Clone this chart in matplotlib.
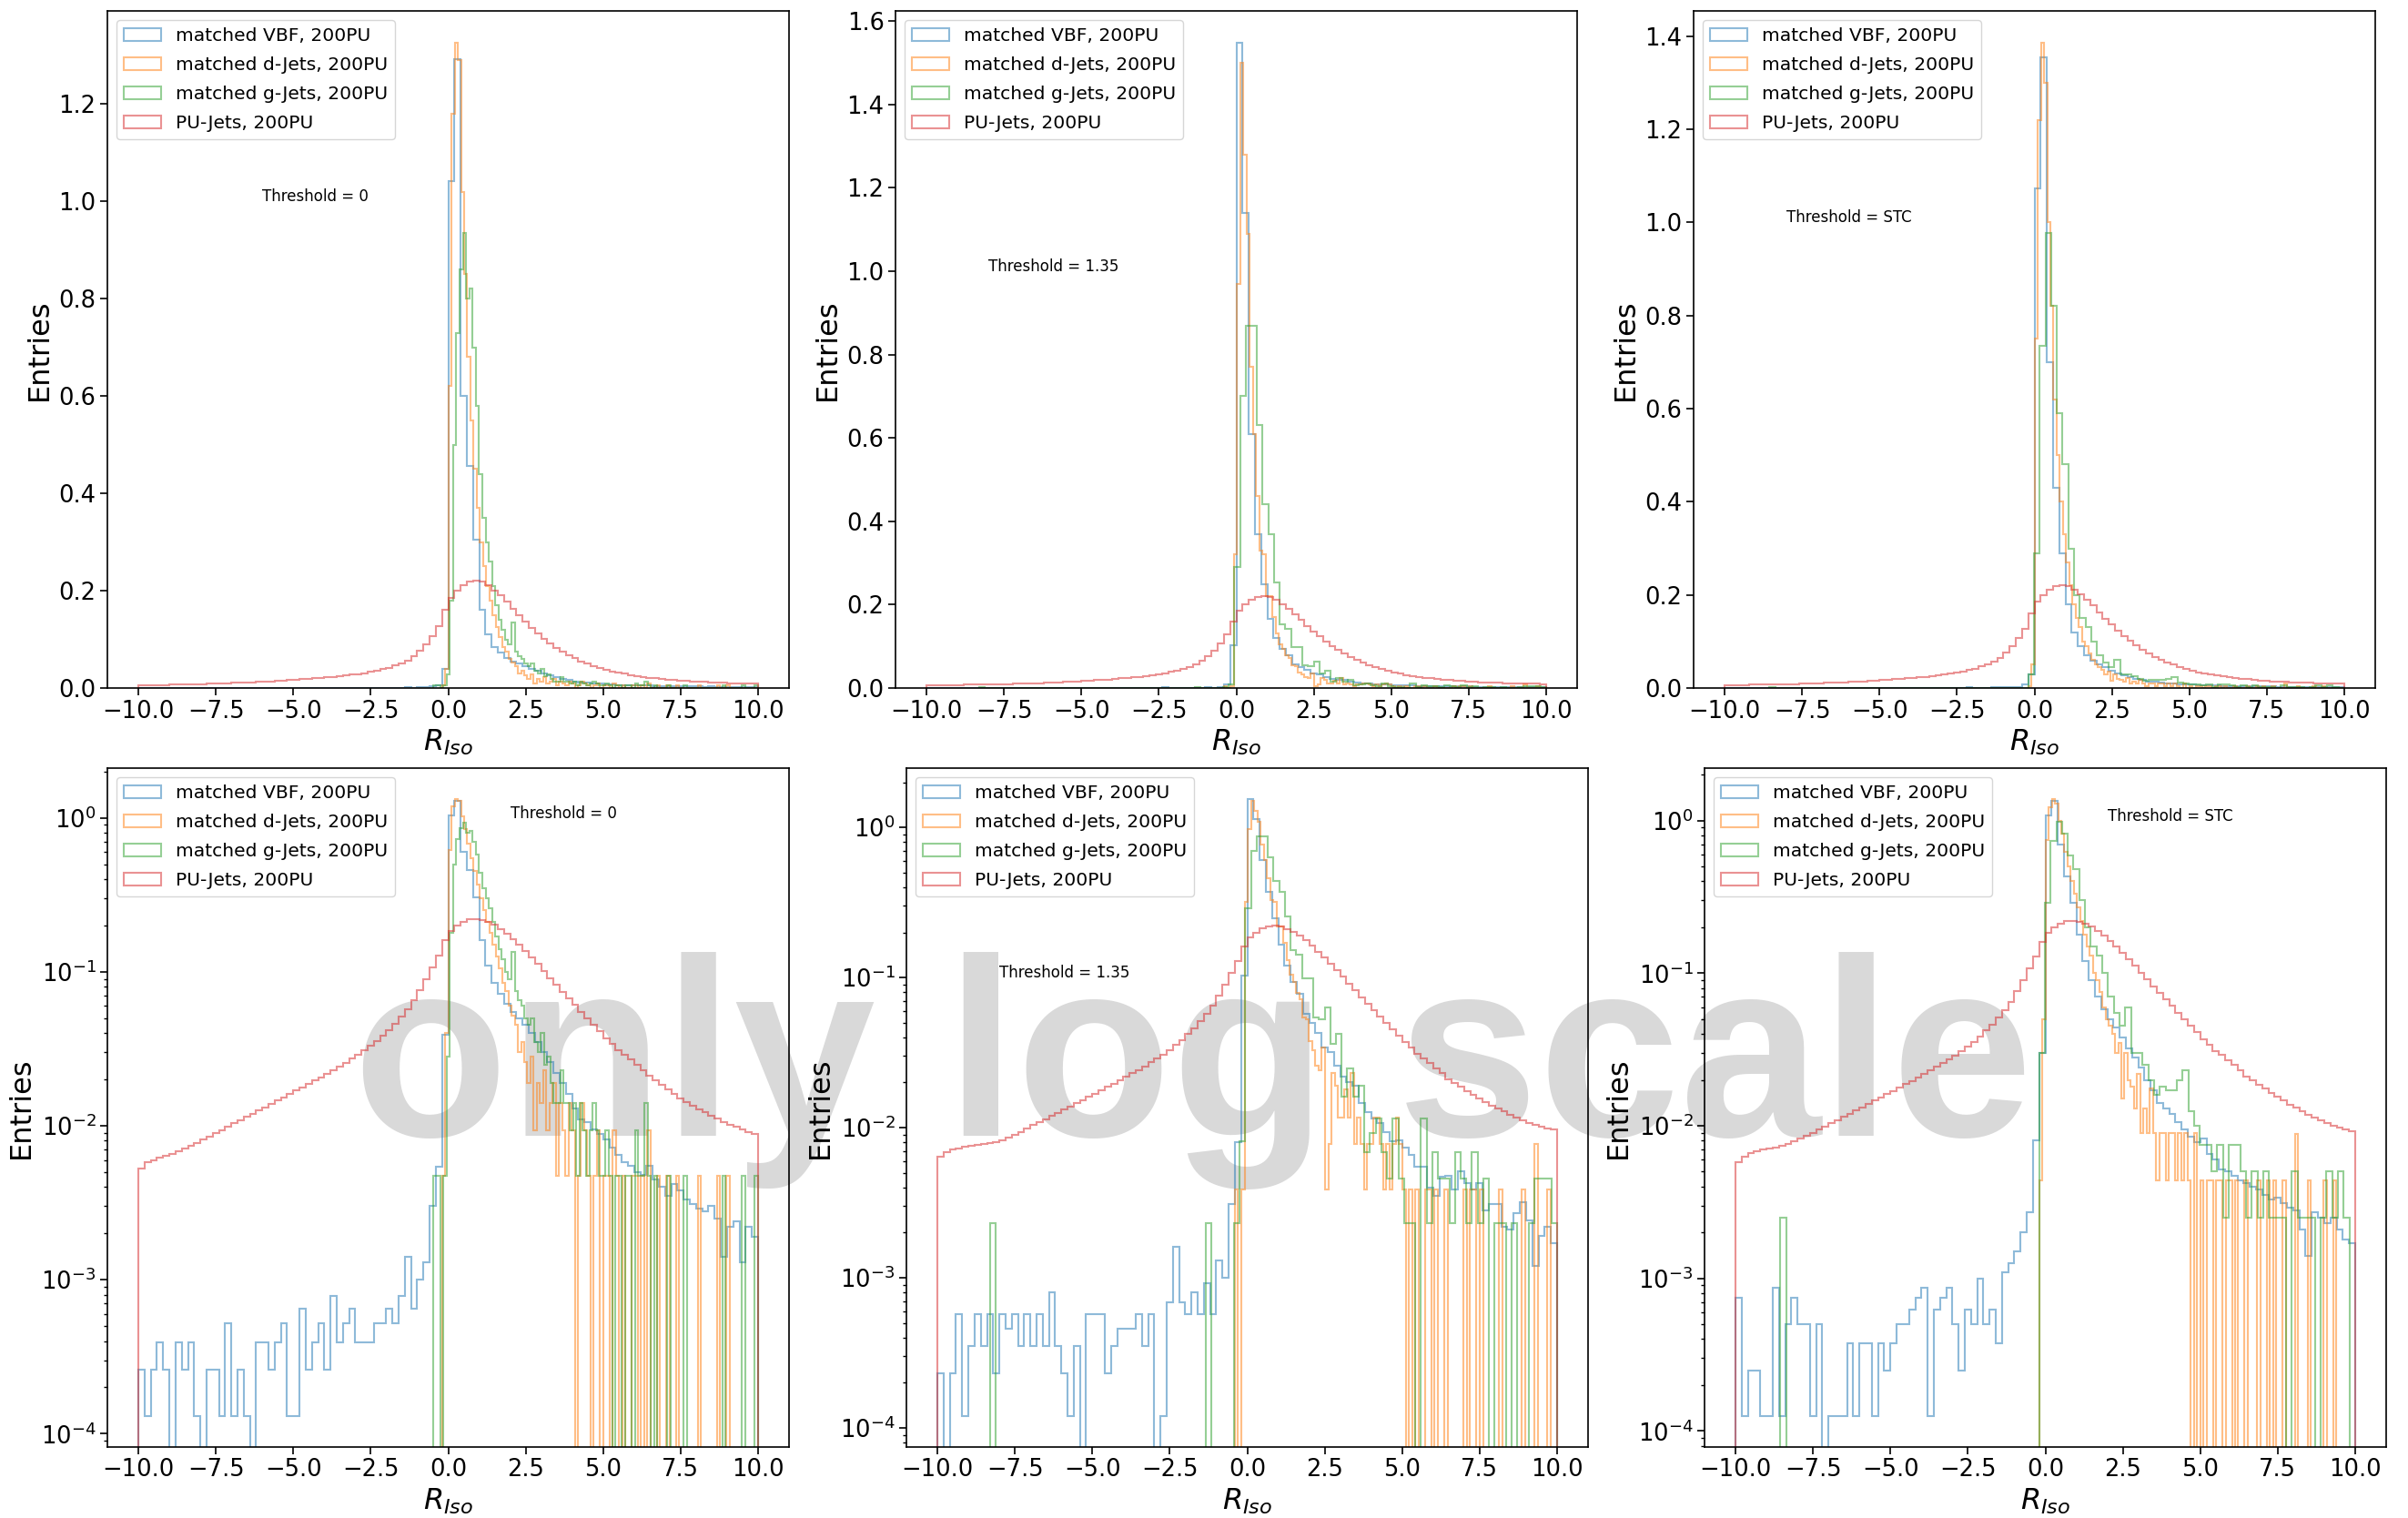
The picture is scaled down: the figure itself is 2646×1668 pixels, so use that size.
import numpy as np
import matplotlib.pyplot as plt

# R_Iso distributions (density) for matched jets and PU jets at 200PU,
# one column per threshold. Each series: bin contents + (low, high) range.

labels = ['matched VBF, 200PU', 'matched d-Jets, 200PU',
          'matched g-Jets, 200PU', 'PU-Jets, 200PU']
thresholds = ['0', '1.35', 'STC']

# ---------------- Threshold = 0 ----------------
vbf_range_thr0 = (-10.0, 10.0)
vbf_thr0 = [
    2.6e-4, 1.3e-4, 2.6e-4, 3.9e-4, 2.6e-4, 0, 3.9e-4, 2.6e-4, 3.9e-4, 1.3e-4,
    0, 2.6e-4, 2.6e-4, 1.3e-4, 5.2e-4, 1.3e-4, 2.6e-4, 1.3e-4, 0, 3.9e-4,
    3.9e-4, 2.6e-4, 3.9e-4, 5.2e-4, 1.3e-4, 1.3e-4, 6.5e-4, 2.6e-4, 3.9e-4, 5.2e-4,
    2.6e-4, 7.8e-4, 3.9e-4, 5.2e-4, 6.5e-4, 3.9e-4, 3.9e-4, 3.9e-4, 5.2e-4, 5.2e-4,
    6.5e-4, 5.2e-4, 7.8e-4, 1.4e-3, 6.5e-4, 1.0e-3, 1.3e-3, 3.0e-3, 5.4e-3, 0.039,
    1.042, 1.293, 0.60, 0.456, 0.305, 0.16, 0.11, 0.085, 0.072, 0.062,
    0.055, 0.05, 0.045, 0.040, 0.035, 0.030, 0.026, 0.022, 0.019, 0.016,
    0.013, 0.011, 0.0105, 0.0095, 0.0088, 0.0082, 0.0072, 0.0065, 0.0058, 0.0055,
    0.0050, 0.0048, 0.0055, 0.0045, 0.0040, 0.0035, 0.0042, 0.0038, 0.0033, 0.0031,
    0.0029, 0.0028, 0.0030, 0.0025, 0.0014, 0.0022, 0.0024, 0.0013, 0.0022, 0.0019,
]
djet_range_thr0 = (-0.2, 10.0)
djet_thr0 = [
    0.0047, 0.04, 0.62, 1.18, 1.325, 1.29, 1.02, 0.85, 0.68, 0.55,
    0.45, 0.37, 0.30, 0.25, 0.21, 0.18, 0.15, 0.125, 0.105, 0.085,
    0.075, 0.06, 0.052, 0.045, 0.03, 0.035, 0.026, 0.019, 0.028, 0.0093,
    0.019, 0.014, 0.023, 0.0093, 0.014, 0.019, 0.0047, 0.014, 0.0093, 0.0047,
    0.014, 0.0093, 0, 0.0047, 0.014, 0.0093, 0.0047, 0, 0.0047, 0.0093,
    0, 0.0047, 0.0047, 0, 0.0093, 0.0047, 0, 0.0047, 0, 0,
    0.0047, 0.0047, 0, 0.0047, 0, 0.0093, 0, 0, 0.0047, 0,
    0, 0.0047, 0, 0, 0.0047, 0, 0, 0, 0, 0,
    0, 0.0047, 0, 0, 0, 0, 0, 0.0047, 0, 0,
    0.0047, 0, 0, 0, 0, 0, 0, 0, 0, 0,
]
gjet_range_thr0 = (-0.47, 10.0)
gjet_thr0 = [
    0.0047, 0.0047, 0, 0.0047, 0.028, 0.18, 0.50, 0.73, 0.86, 0.935,
    0.80, 0.82, 0.70, 0.58, 0.44, 0.35, 0.30, 0.26, 0.21, 0.17,
    0.14, 0.12, 0.10, 0.09, 0.135, 0.075, 0.065, 0.06, 0.05, 0.045,
    0.05, 0.035, 0.03, 0.04, 0.025, 0.028, 0.019, 0.014, 0.014, 0.023,
    0.014, 0.014, 0.0093, 0.014, 0.0047, 0.014, 0.0093, 0.0047, 0.0093, 0.014,
    0.0093, 0.0047, 0.0047, 0.0093, 0.0047, 0, 0.0047, 0.0047, 0, 0.0047,
    0.0047, 0, 0.0093, 0.0047, 0.0047, 0.014, 0.0047, 0, 0.0047, 0,
    0, 0, 0.0047, 0, 0, 0, 0, 0.0047, 0, 0,
    0, 0, 0, 0, 0, 0, 0, 0, 0, 0.0047,
    0, 0, 0, 0, 0, 0.0047, 0, 0, 0, 0.0047,
]
pu_range_thr0 = (-10.0, 10.0)
pu_thr0 = [
    0.0053, 0.0058, 0.0060, 0.0062, 0.0064, 0.0066, 0.0068, 0.0071, 0.0074, 0.0077,
    0.0081, 0.0085, 0.0090, 0.0094, 0.0099, 0.0104, 0.0109, 0.0114, 0.0120, 0.0126,
    0.0132, 0.0139, 0.0146, 0.0153, 0.0161, 0.0169, 0.0178, 0.0187, 0.0197, 0.0207,
    0.0218, 0.0230, 0.0243, 0.0257, 0.0272, 0.0289, 0.0308, 0.0330, 0.0355, 0.0385,
    0.042, 0.046, 0.051, 0.057, 0.065, 0.076, 0.090, 0.107, 0.128, 0.160,
    0.185, 0.200, 0.212, 0.219, 0.221, 0.218, 0.211, 0.201, 0.190, 0.177,
    0.163, 0.149, 0.136, 0.124, 0.112, 0.101, 0.091, 0.082, 0.074, 0.067,
    0.061, 0.055, 0.050, 0.045, 0.041, 0.037, 0.034, 0.031, 0.029, 0.027,
    0.025, 0.023, 0.021, 0.0197, 0.0184, 0.0172, 0.0161, 0.0151, 0.0143, 0.0135,
    0.0128, 0.0122, 0.0116, 0.0111, 0.0106, 0.0102, 0.0098, 0.0095, 0.0091, 0.0088,
]

# ---------------- Threshold = 1.35 ----------------
vbf_range_thr135 = (-10.0, 10.0)
vbf_thr135 = [
    2.3e-4, 0, 2.3e-4, 5.7e-4, 1.2e-4, 3.5e-4, 5.7e-4, 3.5e-4, 5.7e-4, 2.3e-4,
    5.7e-4, 4.6e-4, 5.7e-4, 3.5e-4, 5.7e-4, 3.5e-4, 5.7e-4, 3.5e-4, 8.0e-4, 3.5e-4,
    2.3e-4, 1.2e-4, 3.5e-4, 0, 5.7e-4, 5.7e-4, 5.7e-4, 2.3e-4, 3.5e-4, 4.6e-4,
    4.6e-4, 4.6e-4, 5.7e-4, 3.5e-4, 5.7e-4, 0, 1.2e-4, 6.9e-4, 1.6e-3, 6.9e-4,
    5.7e-4, 8.0e-4, 5.7e-4, 9.2e-4, 5.7e-4, 1.3e-3, 1.0e-3, 3.1e-3, 8.0e-3, 0.103,
    1.547, 1.14, 0.61, 0.37, 0.248, 0.165, 0.12, 0.094, 0.078, 0.057,
    0.05, 0.043, 0.034, 0.032, 0.026, 0.022, 0.02, 0.019, 0.0146, 0.0127,
    0.0115, 0.0107, 0.0093, 0.0081, 0.0083, 0.0074, 0.0066, 0.0055, 0.0055, 0.0040,
    0.0035, 0.0047, 0.0048, 0.0039, 0.0051, 0.0043, 0.0039, 0.0043, 0.0028, 0.0031,
    0.0031, 0.0022, 0.0021, 0.0027, 0.0032, 0.0024, 0.0012, 0.0019, 0.0022, 0.0017,
]
djet_range_thr135 = (-0.4, 10.0)
djet_thr135 = [
    0.0039, 0, 0.0039, 0.32, 0.97, 1.50, 1.28, 1.09, 0.77, 0.61,
    0.46, 0.33, 0.32, 0.22, 0.22, 0.17, 0.13, 0.105, 0.093, 0.079,
    0.072, 0.054, 0.053, 0.038, 0.033, 0.026, 0.024, 0.034, 0.0039, 0.0078,
    0.023, 0.019, 0.0117, 0.0117, 0.018, 0.0117, 0.023, 0.0078, 0.0117, 0.0078,
    0.0039, 0.0078, 0.0078, 0.0117, 0.0117, 0.0078, 0.0039, 0.0078, 0.0039, 0.0078,
    0.0117, 0.0078, 0.0039, 0, 0.0039, 0, 0.0039, 0, 0, 0.0039,
    0.0039, 0, 0.0039, 0, 0, 0.0039, 0, 0, 0, 0,
    0, 0.0039, 0, 0.0039, 0.0039, 0, 0.0039, 0, 0, 0,
    0, 0, 0.0039, 0, 0, 0, 0, 0, 0, 0.0039,
    0, 0, 0, 0.0078, 0, 0, 0, 0.0039, 0, 0,
]
gjet_range_thr135 = (-8.3, 10.0)
gjet_thr135 = [
    0.0023, 0, 0, 0, 0, 0, 0, 0, 0, 0,
    0, 0, 0, 0, 0, 0, 0, 0, 0, 0,
    0, 0, 0, 0, 0, 0, 0, 0, 0, 0,
    0, 0, 0, 0, 0, 0, 0, 0, 0.0023, 0,
    0, 0, 0, 0.0023, 0.0081, 0.29, 0.70, 0.87, 0.87, 0.63,
    0.44, 0.37, 0.254, 0.153, 0.143, 0.099, 0.099, 0.054, 0.053, 0.063,
    0.036, 0.042, 0.016, 0.025, 0.016, 0.019, 0.0069, 0.0092, 0.0115, 0.0069,
    0.0046, 0.0115, 0.0046, 0.0023, 0.0023, 0, 0.0115, 0.0023, 0.0069, 0.0046,
    0.0046, 0.0023, 0.0069, 0.0046, 0.0023, 0.0069, 0.0023, 0.0046, 0, 0.0023,
    0.0023, 0, 0.0023, 0, 0, 0.0023, 0.0046, 0.0046, 0.0046, 0.0023,
]
pu_range_thr135 = (-10.0, 10.0)
pu_thr135 = [
    0.0064, 0.0069, 0.0072, 0.0073, 0.0075, 0.0076, 0.0077, 0.0078, 0.0079, 0.0080,
    0.0082, 0.0086, 0.0090, 0.0094, 0.0099, 0.0104, 0.0109, 0.0114, 0.0120, 0.0126,
    0.0132, 0.0139, 0.0146, 0.0153, 0.0161, 0.0169, 0.0178, 0.0187, 0.0197, 0.0207,
    0.0218, 0.0230, 0.0243, 0.0257, 0.0272, 0.0289, 0.0308, 0.0330, 0.0355, 0.0385,
    0.042, 0.046, 0.051, 0.057, 0.065, 0.076, 0.090, 0.107, 0.128, 0.160,
    0.185, 0.200, 0.212, 0.219, 0.221, 0.218, 0.211, 0.201, 0.190, 0.177,
    0.163, 0.149, 0.136, 0.124, 0.112, 0.101, 0.091, 0.082, 0.074, 0.067,
    0.061, 0.055, 0.050, 0.045, 0.041, 0.037, 0.034, 0.031, 0.029, 0.027,
    0.025, 0.023, 0.021, 0.0199, 0.0187, 0.0176, 0.0166, 0.0157, 0.0149, 0.0141,
    0.0134, 0.0128, 0.0122, 0.0117, 0.0112, 0.0108, 0.0104, 0.0101, 0.0099, 0.0097,
]

# ---------------- Threshold = STC ----------------
vbf_range_stc = (-10.0, 10.0)
vbf_stc = [
    7.5e-4, 1.25e-4, 2.5e-4, 2.5e-4, 1.25e-4, 1.25e-4, 8.7e-4, 1.25e-4, 5e-4, 7.5e-4,
    5e-4, 5e-4, 1.25e-4, 5e-4, 0, 1.25e-4, 1.25e-4, 1.25e-4, 3.75e-4, 1.25e-4,
    3.75e-4, 3.75e-4, 1.25e-4, 3.75e-4, 2.5e-4, 3.75e-4, 5e-4, 5e-4, 6.25e-4, 7.5e-4,
    8.7e-4, 1.25e-4, 6.25e-4, 7.5e-4, 8.7e-4, 5e-4, 2.5e-4, 6.25e-4, 5e-4, 1.0e-3,
    5e-4, 6.25e-4, 3.75e-4, 1.1e-3, 1.25e-3, 1.5e-3, 2.0e-3, 2.7e-3, 8.0e-3, 0.03,
    1.073, 1.354, 0.70, 0.43, 0.29, 0.18, 0.12, 0.09, 0.07, 0.058,
    0.05, 0.044, 0.038, 0.032, 0.028, 0.024, 0.02, 0.017, 0.014, 0.013,
    0.012, 0.0105, 0.0095, 0.0085, 0.0078, 0.0082, 0.0065, 0.006, 0.0052, 0.005,
    0.0047, 0.0044, 0.0042, 0.004, 0.0038, 0.0035, 0.0033, 0.0034, 0.0031, 0.0029,
    0.0028, 0.0021, 0.0014, 0.0027, 0.0025, 0.0023, 0.0025, 0.0021, 0.0018, 0.0017,
]
djet_range_stc = (-0.2, 10.0)
djet_stc = [
    0.0044, 0.05, 0.75, 1.22, 1.385, 1.30, 1.0, 0.82, 0.62, 0.5,
    0.4, 0.33, 0.27, 0.22, 0.18, 0.15, 0.13, 0.1, 0.09, 0.075,
    0.06, 0.05, 0.045, 0.04, 0.03, 0.035, 0.015, 0.03, 0.02, 0.018,
    0.013, 0.022, 0.009, 0.013, 0.009, 0.0175, 0.009, 0.0044, 0.009, 0.009,
    0.0044, 0.009, 0.009, 0.0044, 0.009, 0.0044, 0.009, 0.0044, 0, 0.009,
    0, 0.0044, 0, 0.0044, 0.0044, 0, 0.0044, 0.0044, 0, 0.0044,
    0.0044, 0, 0.0044, 0, 0, 0.0044, 0, 0, 0, 0.0044,
    0, 0, 0.0044, 0, 0.0044, 0, 0, 0.0044, 0, 0,
    0, 0.0088, 0, 0, 0, 0.0044, 0, 0, 0, 0,
    0.0044, 0, 0, 0.0044, 0, 0, 0, 0, 0, 0,
]
gjet_range_stc = (-8.55, 10.0)
gjet_stc = [
    0.0025, 0, 0, 0, 0, 0, 0, 0, 0, 0,
    0, 0, 0, 0, 0, 0, 0, 0, 0, 0,
    0, 0, 0, 0, 0, 0, 0, 0, 0, 0,
    0, 0, 0, 0, 0, 0, 0, 0, 0, 0,
    0, 0, 0, 0, 0, 0.03, 0.29, 0.735, 0.977, 0.82,
    0.59, 0.48, 0.30, 0.20, 0.15, 0.13, 0.10, 0.07, 0.055, 0.045,
    0.06, 0.03, 0.03, 0.025, 0.02, 0.016, 0.018, 0.017, 0.017, 0.02,
    0.023, 0.0125, 0.01, 0.0075, 0.0075, 0.005, 0.0075, 0.0025, 0.0075, 0.0075,
    0.005, 0.0025, 0.005, 0.0025, 0.005, 0.0025, 0.0025, 0.0025, 0, 0.005,
    0.0025, 0.0025, 0.0025, 0, 0.0025, 0.005, 0.0025, 0.005, 0.0025, 0,
]
pu_range_stc = (-10.0, 10.0)
pu_stc = [
    0.0058, 0.0063, 0.0066, 0.0068, 0.0070, 0.0071, 0.0072, 0.0074, 0.0076, 0.0079,
    0.0082, 0.0086, 0.0090, 0.0094, 0.0099, 0.0104, 0.0109, 0.0114, 0.0120, 0.0126,
    0.0132, 0.0139, 0.0146, 0.0153, 0.0161, 0.0169, 0.0178, 0.0187, 0.0197, 0.0207,
    0.0218, 0.0230, 0.0243, 0.0257, 0.0272, 0.0289, 0.0308, 0.0330, 0.0355, 0.0385,
    0.042, 0.046, 0.051, 0.057, 0.065, 0.076, 0.090, 0.107, 0.128, 0.160,
    0.185, 0.200, 0.212, 0.219, 0.221, 0.218, 0.211, 0.201, 0.190, 0.177,
    0.163, 0.149, 0.136, 0.124, 0.112, 0.101, 0.091, 0.082, 0.074, 0.067,
    0.061, 0.055, 0.050, 0.045, 0.041, 0.037, 0.034, 0.031, 0.029, 0.027,
    0.025, 0.023, 0.021, 0.0198, 0.0186, 0.0175, 0.0164, 0.0155, 0.0146, 0.0138,
    0.0131, 0.0124, 0.0118, 0.0113, 0.0108, 0.0104, 0.0100, 0.0097, 0.0094, 0.0092,
]

panels = [
    [(vbf_thr0, vbf_range_thr0), (djet_thr0, djet_range_thr0),
     (gjet_thr0, gjet_range_thr0), (pu_thr0, pu_range_thr0)],
    [(vbf_thr135, vbf_range_thr135), (djet_thr135, djet_range_thr135),
     (gjet_thr135, gjet_range_thr135), (pu_thr135, pu_range_thr135)],
    [(vbf_stc, vbf_range_stc), (djet_stc, djet_range_stc),
     (gjet_stc, gjet_range_stc), (pu_stc, pu_range_stc)],
]
colors = ['tab:blue', 'tab:orange', 'tab:green', 'tab:red']

# where the "Threshold = ..." note sits, (x, y) in data units
note_lin = [(-6, 1.0), (-8, 1.0), (-8, 1.0)]
note_log = [(2, 1.0), (-8, 0.1), (2, 1.0)]

W, H = 2646, 1668
fig = plt.figure(figsize=(W / 100, H / 100), dpi=100)
fig.patch.set_facecolor('white')

# big grey stamp across the log row, behind everything
fig.text(388 / W, 1 - 1248 / H, 'only log scale', fontsize=201, fontweight='bold',
         family='Liberation Sans', color='#d9d9d9', ha='left', va='baseline', zorder=-10)

top_left = [118, 984, 1861]
bot_left = [118, 996, 1873]
axw = 749


def draw_panel(ax, series, log, note, thr):
    for (vals, (lo, hi)), c, lab in zip(series, colors, labels):
        edges = np.linspace(lo, hi, len(vals) + 1)
        centers = 0.5 * (edges[1:] + edges[:-1])
        ax.hist(centers, bins=edges, weights=vals, histtype='step',
                color=c, alpha=0.5, lw=1.5, label=lab)
    if log:
        ax.set_yscale('log')
    ax.set_facecolor('none')
    ax.legend(loc='upper left', fontsize=14.6, labelspacing=0.64)
    ax.set_xlabel(r'$R_{Iso}$', fontsize=23)
    ax.set_ylabel('Entries', fontsize=23)
    ax.tick_params(labelsize=18.5, length=5.5, width=1.2)
    ax.tick_params(which='minor', length=3.2, width=1.0)
    for s in ax.spines.values():
        s.set_linewidth(1.2)
    ax.text(note[0], note[1], 'Threshold = ' + thr, fontsize=12)


for i in range(3):
    ax = fig.add_axes([top_left[i] / W, 1 - 756 / H, axw / W, 744 / H])
    draw_panel(ax, panels[i], False, note_lin[i], thresholds[i])
    ax = fig.add_axes([bot_left[i] / W, 1 - 1590 / H, axw / W, 746 / H])
    draw_panel(ax, panels[i], True, note_log[i], thresholds[i])

fig.savefig('out.png', dpi=100)
